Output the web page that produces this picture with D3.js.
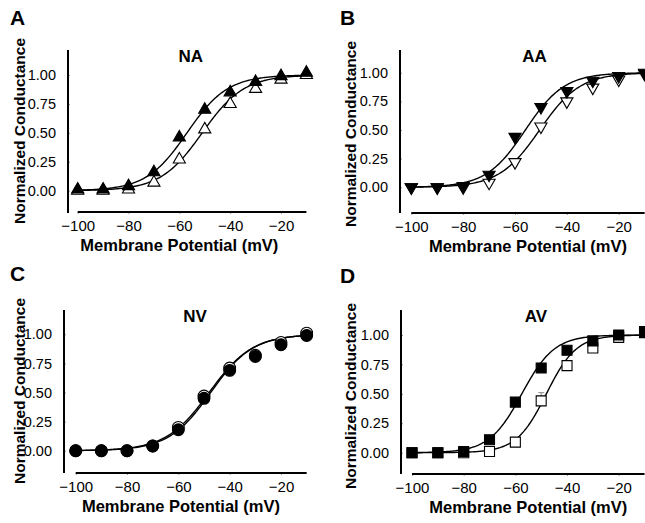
<!DOCTYPE html>
<html>
<head>
<meta charset="utf-8">
<script src="https://cdn.jsdelivr.net/npm/d3@7"></script>
<style>
  html, body { margin: 0; padding: 0; background: #fff; }
  svg { display: block; }
  text { font-family: "Liberation Sans", Arial, sans-serif; fill: #000; }
</style>
</head>
<body>
<svg id="chart" width="645" height="523"></svg>
<script>
// ---------- data ----------
const voltages = [-100, -90, -80, -70, -60, -50, -40, -30, -20, -10];
const xTicks = [-100, -80, -60, -40, -20];
const yTicks = [0, 0.25, 0.5, 0.75, 1.0];
const yTickLabels = ["0.00", "0.25", "0.50", "0.75", "1.00"];
const panelLetters = ["A", "B", "C", "D"];
const panelTitles = ["NA", "AA", "NV", "AV"];

// NA (triangles)
const naFilled = [0.01, 0.01, 0.04, 0.16, 0.46, 0.70, 0.85, 0.94, 0.99, 1.02];
const naOpen   = [0.00, 0.00, 0.01, 0.07, 0.27, 0.53, 0.75, 0.88, 0.96, 1.00];
// AA (inverted triangles)
const aaFilled = [0.00, 0.00, 0.01, 0.11, 0.44, 0.70, 0.84, 0.93, 0.97, 1.00];
const aaOpen   = [0.00, 0.00, 0.00, 0.04, 0.22, 0.53, 0.75, 0.87, 0.94, 0.99];
// NV (circles)
const nvFilled = [0.00, 0.00, 0.00, 0.04, 0.18, 0.45, 0.69, 0.81, 0.91, 0.99];
const nvOpen   = [0.00, 0.00, 0.00, 0.04, 0.20, 0.47, 0.71, 0.82, 0.93, 1.01];
// AV (squares)
const avFilled = [0.00, 0.00, 0.01, 0.11, 0.43, 0.72, 0.87, 0.95, 1.00, 1.03];
const avOpen   = [0.00, 0.00, 0.00, 0.01, 0.09, 0.44, 0.74, 0.89, 0.98, 1.02];
// error (SEM, upper only visible)
const avOpenErr = [0, 0, 0, 0, 0, 0.07, 0.02, 0, 0, 0];
const naFilledErr = [0, 0, 0, 0, 0.02, 0.02, 0, 0, 0, 0];
const aaFilledErr = [0, 0, 0, 0, 0.03, 0.02, 0, 0, 0, 0];

// Boltzmann fit parameters [V1/2, slope k] for each fitted curve
const naFit = [[-57, 8.0], [-51, 8.2]];
const aaFit = [[-56, 7.5], [-50.5, 7.8]];
const nvFit = [[-48, 8.4], [-47.4, 8.2]];
const avFit = [[-57.5, 6.3], [-48, 5.8]];

// ---------- layout ----------
const panels = [
  { filled: naFilled, open: naOpen, fit: naFit, sym: "tri", errF: naFilledErr, errO: null,
    axX: 68, yTop: 50, yBot: 213, y0: 190.7, y1: 75, axY: 212, xA: 77.7, xB: 281,
    letter: [10, 25], titleV: -55.5, titleY: 62, ytX: 25, ytY: 131, xtV: -60 },
  { filled: aaFilled, open: aaOpen, fit: aaFit, sym: "itri", errF: aaFilledErr, errO: null,
    axX: 400, yTop: 50, yBot: 213, y0: 187.3, y1: 72.7, axY: 213, xA: 411.3, xB: 618.7,
    letter: [340, 25], titleV: -52.5, titleY: 62, ytX: 356, ytY: 134, xtV: -55 },
  { filled: nvFilled, open: nvOpen, fit: nvFit, sym: "circ", errF: null, errO: null,
    axX: 64, yTop: 310, yBot: 473, y0: 450.7, y1: 334.3, axY: 473, xA: 75.7, xB: 281,
    letter: [10, 281], titleV: -53.5, titleY: 322, ytX: 25, ytY: 391, xtV: -59 },
  { filled: avFilled, open: avOpen, fit: avFit, sym: "sq", errF: null, errO: avOpenErr,
    axX: 401, yTop: 310, yBot: 474, y0: 452.7, y1: 335, axY: 474, xA: 412, xB: 618.7,
    letter: [340, 283], titleV: -52, titleY: 322, ytX: 356, ytY: 396, xtV: -55 }
];

const svg = d3.select("#chart");
const fitV = d3.range(-100, -9.5, 0.5);
const boltz = (v, p) => 1 / (1 + Math.exp((p[0] - v) / p[1]));

panels.forEach((p, i) => {
  const x = d3.scaleLinear().domain([-100, -20]).range([p.xA, p.xB]);
  const y = d3.scaleLinear().domain([0, 1]).range([p.y0, p.y1]);
  const g = svg.append("g");

  // y axis
  const ya = g.append("g").attr("transform", `translate(${p.axX},0)`)
    .call(d3.axisLeft(y).tickValues(yTicks).tickFormat((d, j) => yTickLabels[j]).tickSize(-2).tickPadding(12));
  ya.select(".domain").remove();
  ya.selectAll(".tick line").attr("stroke", "#999");
  ya.selectAll(".tick text").style("font-size", "14.5px").style("font-family", "Liberation Sans, Arial, sans-serif");
  g.append("line").attr("x1", p.axX).attr("x2", p.axX).attr("y1", p.yTop).attr("y2", p.yBot)
    .attr("stroke", "#000").attr("stroke-width", 2);

  // x axis
  const xa = g.append("g").attr("transform", `translate(0,${p.axY})`)
    .call(d3.axisBottom(x).tickValues(xTicks).tickSize(2).tickPadding(6));
  xa.select(".domain").remove();
  xa.selectAll(".tick line").attr("stroke", "#999");
  xa.selectAll(".tick text").style("font-size", "15px").style("font-family", "Liberation Sans, Arial, sans-serif");
  g.append("line").attr("x1", x(-100)).attr("x2", x(-10)).attr("y1", p.axY).attr("y2", p.axY)
    .attr("stroke", "#000").attr("stroke-width", 2);

  // titles
  g.append("text").attr("x", p.letter[0]).attr("y", p.letter[1])
    .style("font-size", "21px").style("font-weight", "bold").text(panelLetters[i]);
  g.append("text").attr("x", x(p.titleV)).attr("y", p.titleY).attr("text-anchor", "middle")
    .style("font-size", "17px").style("font-weight", "bold").text(panelTitles[i]);
  g.append("text").attr("x", x(p.xtV)).attr("y", p.axY + 39).attr("text-anchor", "middle")
    .style("font-size", "16.5px").style("font-weight", "bold").text("Membrane Potential (mV)");
  g.append("text").attr("transform", `translate(${p.ytX},${p.ytY}) rotate(-90)`).attr("text-anchor", "middle")
    .style("font-size", "15.5px").style("font-weight", "bold").text("Normalized Conductance");

  // fit curves
  const line = d3.line().x(d => x(d[0])).y(d => y(d[1]));
  p.fit.forEach(fp => {
    g.append("path").datum(fitV.map(v => [v, boltz(v, fp)]))
      .attr("d", line).attr("fill", "none").attr("stroke", "#000").attr("stroke-width", 1.4);
  });

  // error bars
  const drawErr = (vals, errs, col) => {
    if (!errs) return;
    voltages.forEach((v, j) => {
      if (errs[j] > 0) {
        g.append("line").attr("x1", x(v)).attr("x2", x(v)).attr("y1", y(vals[j])).attr("y2", y(vals[j] + errs[j]))
          .attr("stroke", col).attr("stroke-width", 1);
        g.append("line").attr("x1", x(v) - 3).attr("x2", x(v) + 3).attr("y1", y(vals[j] + errs[j])).attr("y2", y(vals[j] + errs[j]))
          .attr("stroke", col).attr("stroke-width", 1);
      }
    });
  };
  drawErr(p.open, p.errO, "#888");
  drawErr(p.filled, p.errF, "#333");

  // markers
  const symType = { tri: d3.symbolTriangle, itri: d3.symbolTriangle, circ: d3.symbolCircle, sq: d3.symbolSquare }[p.sym];
  const symSize = { tri: 64, itri: 64, circ: 110, sq: 100 }[p.sym];
  const rot = p.sym === "itri" ? " rotate(180)" : "";
  const sym = d3.symbol().type(symType).size(symSize);
  const drawSeries = (vals, fill) => {
    g.selectAll(null).data(voltages.map((v, j) => [v, vals[j]])).enter().append("path")
      .attr("d", sym)
      .attr("transform", d => `translate(${x(d[0])},${y(d[1])})${rot}`)
      .attr("fill", fill).attr("stroke", "#000").attr("stroke-width", 1.1);
  };
  drawSeries(p.open, "#fff");
  drawSeries(p.filled, "#000");
});
</script>
</body>
</html>
